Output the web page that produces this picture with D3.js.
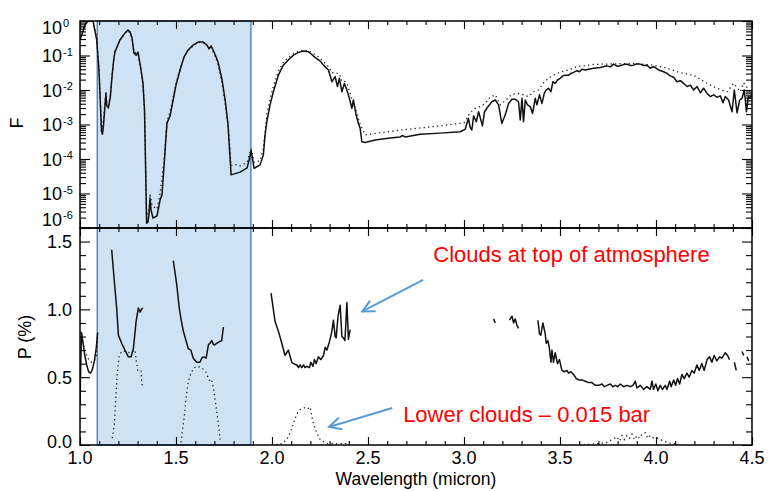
<!DOCTYPE html>
<html>
<head>
<meta charset="utf-8">
<script src="https://cdn.jsdelivr.net/npm/d3@7"></script>
<style>
  body { margin: 0; background: #fff; }
  svg text { font-family: "Liberation Sans", Arial, sans-serif; fill: #000; }
</style>
</head>
<body>
<svg id="chart" width="768" height="491"></svg>
<script>
// ---- data ----
// top panel: wavelength (micron) and log10(F), solid curve
const fWave = [
  1.000,1.026,1.042,1.068,1.087,1.099,1.106,1.112,1.117,1.122,
  1.135,1.139,1.148,1.158,1.167,1.175,1.182,1.208,1.234,1.250,
  1.261,1.271,1.281,1.292,1.302,1.318,1.328,1.336,1.341,1.347,
  1.354,1.360,1.365,1.370,1.380,1.401,1.417,1.427,1.438,1.453,
  1.469,1.485,1.500,1.521,1.542,1.563,1.589,1.615,1.641,1.662,
  1.672,1.683,1.698,1.719,1.740,1.756,1.771,1.787,1.834,1.870,
  1.881,1.891,1.907,1.938,1.955,1.964,1.973,1.990,2.007,2.033,
  2.059,2.085,2.112,2.138,2.164,2.190,2.207,2.225,2.251,2.268,
  2.294,2.312,2.329,2.341,2.351,2.364,2.377,2.390,2.403,2.416,
  2.424,2.438,2.450,2.459,2.468,2.485,2.537,2.615,2.668,2.678,
  2.694,2.772,2.876,2.980,3.006,3.023,3.032,3.041,3.050,3.064,
  3.076,3.084,3.096,3.107,3.119,3.133,3.145,3.163,3.180,3.197,
  3.215,3.232,3.250,3.267,3.284,3.293,3.302,3.310,3.319,3.331,
  3.345,3.357,3.371,3.380,3.393,3.406,3.418,3.428,3.440,3.453,
  3.463,3.475,3.487,3.501,3.515,3.527,3.545,3.557,3.571,3.588,
  3.602,3.614,3.632,3.649,3.675,3.710,3.745,3.762,3.779,3.797,
  3.814,3.831,3.849,3.866,3.883,3.901,3.918,3.935,3.953,3.970,
  3.988,4.014,4.040,4.057,4.074,4.092,4.109,4.127,4.144,4.162,
  4.179,4.196,4.214,4.231,4.248,4.266,4.283,4.300,4.318,4.335,
  4.349,4.361,4.378,4.396,4.408,4.422,4.436,4.448,4.460,4.471,
  4.481,4.491,4.500
];
const fSolid = [
  -0.55,-0.12,0,0,-0.55,-1.45,-2.40,-3.20,-3.28,-3.05,
  -2.10,-2.45,-2.52,-2.20,-1.60,-1.15,-0.90,-0.55,-0.35,-0.26,
  -0.32,-0.49,-0.93,-0.99,-0.90,-1.42,-1.80,-2.58,-4.03,-5.86,
  -5.83,-5.57,-5.13,-5.48,-5.71,-5.65,-5.19,-5.04,-4.17,-2.96,
  -2.75,-2.29,-1.86,-1.42,-1.04,-0.84,-0.70,-0.61,-0.61,-0.70,
  -0.81,-0.72,-0.90,-1.19,-1.71,-2.29,-3.01,-4.46,-4.38,-4.26,
  -4.03,-3.75,-4.27,-4.17,-3.88,-3.30,-2.92,-2.43,-2.05,-1.57,
  -1.28,-1.13,-0.99,-0.91,-0.87,-0.89,-0.97,-1.06,-1.16,-1.28,
  -1.42,-1.76,-1.61,-1.90,-1.66,-2.05,-1.81,-2.00,-2.24,-2.53,
  -2.29,-2.72,-2.97,-3.11,-3.50,-3.52,-3.45,-3.39,-3.36,-3.32,
  -3.36,-3.28,-3.25,-3.21,-3.14,-2.82,-3.08,-3.16,-2.75,-2.92,
  -2.63,-2.79,-3.04,-2.63,-2.53,-2.43,-2.34,-2.29,-2.43,-2.97,
  -2.72,-2.39,-2.27,-2.27,-2.34,-2.87,-2.24,-2.92,-2.29,-2.43,
  -2.48,-2.68,-2.24,-2.43,-2.14,-2.39,-2.10,-2.00,-1.95,-2.05,
  -1.76,-1.81,-1.71,-1.66,-1.59,-1.57,-1.57,-1.52,-1.49,-1.44,
  -1.47,-1.40,-1.42,-1.40,-1.37,-1.35,-1.30,-1.33,-1.25,-1.31,
  -1.30,-1.26,-1.25,-1.29,-1.28,-1.24,-1.25,-1.29,-1.28,-1.37,
  -1.32,-1.42,-1.47,-1.52,-1.59,-1.63,-1.76,-1.73,-1.81,-1.90,
  -1.86,-2.00,-1.90,-2.08,-1.95,-2.10,-2.19,-2.14,-2.21,-2.17,
  -2.37,-2.19,-2.29,-2.63,-2.00,-2.66,-2.29,-2.24,-2.00,-2.63,
  -2.19,-2.24,-2.10
];
// top panel, dotted curve (log10 F)
const fDotWave = [
  1.000,1.026,1.042,1.068,1.087,1.099,1.106,1.112,1.117,1.122,
  1.135,1.139,1.148,1.158,1.167,1.182,1.208,1.234,1.250,1.271,
  1.281,1.302,1.318,1.328,1.336,1.341,1.347,1.360,1.365,1.375,
  1.401,1.417,1.438,1.453,1.469,1.485,1.500,1.521,1.542,1.563,
  1.589,1.615,1.641,1.662,1.683,1.698,1.719,1.740,1.756,1.771,
  1.787,1.800,1.834,1.870,1.891,1.907,1.938,1.955,1.973,1.990,
  2.007,2.033,2.059,2.085,2.112,2.138,2.164,2.190,2.225,2.251,
  2.268,2.294,2.312,2.329,2.341,2.351,2.364,2.377,2.390,2.416,
  2.438,2.459,2.485,2.670,2.876,3.000,3.032,3.058,3.084,3.110,
  3.136,3.163,3.189,3.223,3.250,3.284,3.310,3.336,3.362,3.388,
  3.414,3.440,3.475,3.510,3.545,3.588,3.623,3.675,3.727,3.883,
  3.988,4.057,4.127,4.196,4.266,4.318,4.370,4.404,4.439,4.456,
  4.491,4.500
];
const fDotted = [
  -0.45,-0.08,0,0,-0.50,-1.40,-2.30,-3.10,-3.15,-2.85,
  -2.05,-2.35,-2.45,-2.15,-1.55,-0.88,-0.55,-0.36,-0.27,-0.48,
  -0.90,-0.95,-1.45,-1.85,-2.60,-4.00,-5.70,-5.45,-5.00,-5.35,
  -5.45,-5.00,-4.05,-2.90,-2.65,-2.20,-1.80,-1.40,-1.05,-0.86,
  -0.72,-0.62,-0.62,-0.72,-0.76,-0.95,-1.25,-1.80,-2.40,-3.00,
  -4.20,-4.15,-4.20,-4.10,-3.70,-4.10,-4.05,-3.70,-2.70,-2.25,
  -1.90,-1.45,-1.20,-1.05,-0.95,-0.88,-0.85,-0.86,-0.98,-1.08,
  -1.18,-1.32,-1.50,-1.50,-1.52,-1.52,-1.75,-1.75,-1.80,-2.25,
  -2.60,-3.00,-3.30,-3.16,-3.04,-2.95,-2.66,-2.53,-2.48,-2.39,
  -2.21,-2.14,-2.43,-2.27,-2.12,-2.10,-2.14,-2.19,-2.05,-2.00,
  -1.79,-1.66,-1.54,-1.47,-1.42,-1.32,-1.30,-1.26,-1.25,-1.23,
  -1.28,-1.37,-1.50,-1.57,-1.81,-1.95,-2.05,-1.81,-2.05,-1.79,
  -2.05,-2.00
];

// bottom panel: polarisation P (%), null = gap in the curve
const pWave = [
  1.000,1.004,1.008,1.015,1.025,1.035,1.045,1.055,1.065,1.075,1.085,1.092, null,
  1.165,1.178,1.191,1.200,1.217,1.234,1.252,1.266,1.278,1.292,1.304,1.313,1.320,1.327, null,
  1.486,1.504,1.517,1.526,1.538,1.552,1.564,1.577,1.590,1.608,1.625,1.634,1.643,1.657,
  1.669,1.677,1.686,1.695,1.703,1.712,1.724,1.738,1.747, null,
  1.995,2.016,2.033,2.051,2.068,2.085,2.103,2.112,2.129,2.138,2.146,2.155,2.164,2.172,
  2.181,2.195,2.202,2.213,2.221,2.230,2.242,2.254,2.268,2.277,2.286,2.299,2.312,2.320,
  2.329,2.334,2.344,2.355,2.364,2.372,2.380,2.390,2.398,2.407, null,
  3.154,3.163, null,
  3.237,3.250,3.258,3.267,3.276,3.284, null,
  3.385,3.393,3.400,3.411,3.423,3.428,3.437,3.444,3.453,3.458,3.466,3.475,3.487,3.497,
  3.510,3.522,3.536,3.544,3.557,3.571,3.585,3.597,3.614,3.632,3.649,3.666,3.684,3.701,
  3.719,3.731,3.745,3.762,3.776,3.788,3.800,3.814,3.831,3.849,3.866,3.880,3.892,3.901,
  3.918,3.935,3.953,3.970,3.979,3.987,3.999,4.010,4.022,4.034,4.048,4.057,4.071,4.079,
  4.092,4.102,4.112,4.123,4.135,4.147,4.161,4.173,4.187,4.199,4.213,4.225,4.239,4.251,
  4.266,4.279,4.291,4.303,4.317,4.331,4.343,4.361,4.373,4.383, null,
  4.408,4.418, null,
  4.448,4.457, null,
  4.474,4.483
];
const pSolid = [
  0.30,0.60,0.83,0.76,0.66,0.59,0.54,0.53,0.56,0.62,0.72,0.83, null,
  1.44,1.22,1.01,0.81,0.75,0.70,0.65,0.65,0.71,0.91,1.01,0.98,1.00,1.01, null,
  1.36,1.18,1.01,0.93,0.84,0.77,0.71,0.70,0.64,0.61,0.61,0.64,0.65,0.64,
  0.74,0.75,0.77,0.74,0.74,0.75,0.76,0.77,0.87, null,
  1.12,0.91,0.84,0.75,0.66,0.70,0.61,0.60,0.59,0.57,0.59,0.57,0.59,0.57,
  0.58,0.57,0.61,0.58,0.63,0.60,0.65,0.63,0.66,0.72,0.70,0.76,0.84,0.92,
  0.80,0.79,0.95,1.03,0.80,0.79,0.77,1.05,0.78,0.85, null,
  0.93,0.90, null,
  0.92,0.95,0.90,0.93,0.88,0.86, null,
  0.92,0.82,0.81,0.90,0.82,0.75,0.77,0.72,0.61,0.70,0.61,0.68,0.60,0.63,
  0.55,0.54,0.55,0.53,0.54,0.52,0.49,0.48,0.48,0.47,0.46,0.46,0.44,0.44,
  0.45,0.43,0.44,0.45,0.43,0.44,0.43,0.45,0.43,0.44,0.43,0.44,0.47,0.42,
  0.44,0.41,0.43,0.41,0.47,0.41,0.45,0.40,0.44,0.41,0.44,0.41,0.47,0.43,
  0.48,0.44,0.49,0.45,0.52,0.49,0.53,0.50,0.55,0.53,0.59,0.55,0.60,0.55,
  0.63,0.65,0.61,0.66,0.62,0.65,0.64,0.68,0.66,0.63, null,
  0.61,0.55, null,
  0.69,0.66, null,
  0.65,0.62
];
// bottom panel, dotted curve
const pDotWave = [
  1.004,1.015,1.030,1.045,1.060,1.075,1.085,1.092, null,
  1.168,1.179,1.186,1.194,1.203,1.217,1.234,1.261,1.287,1.292,1.301,1.318,1.321,1.325, null,
  1.526,1.533,1.544,1.552,1.561,1.570,1.582,1.594,1.611,1.634,1.655,1.669,1.677,1.686,
  1.695,1.703,1.712,1.721,1.730, null,
  1.999,2.040,2.077,2.094,2.112,2.129,2.146,2.162,2.178,2.190,2.199,2.207,2.216,2.225,
  2.233,2.251,2.286,2.397, null,
  3.600,3.700,3.745,3.771,3.797,3.810,3.823,3.836,3.849,3.862,3.875,3.888,3.901,3.914,
  3.927,3.944,3.957,3.970,3.988,4.005,4.022,4.040,4.057,4.080,4.109
];
const pDotted = [
  0.83,0.76,0.68,0.63,0.61,0.62,0.66,0.80, null,
  0.05,0.15,0.34,0.52,0.65,0.69,0.69,0.68,0.70,0.63,0.55,0.55,0.48,0.43, null,
  0.02,0.10,0.22,0.34,0.44,0.50,0.54,0.57,0.58,0.57,0.54,0.49,0.47,0.48,
  0.42,0.34,0.25,0.15,0.04, null,
  0.01,0.00,0.04,0.09,0.16,0.23,0.26,0.27,0.28,0.27,0.28,0.21,0.16,0.12,
  0.09,0.04,0.01,0.01, null,
  0.00,0.01,0.02,0.04,0.06,0.03,0.07,0.04,0.07,0.05,0.08,0.04,0.07,0.05,
  0.08,0.09,0.05,0.07,0.05,0.05,0.04,0.03,0.02,0.01,0.01
];

const xTicks = [1.0, 1.5, 2.0, 2.5, 3.0, 3.5, 4.0, 4.5];
const fTickExp = [0, -1, -2, -3, -4, -5, -6];
const pTicks = [0.0, 0.5, 1.0, 1.5];
const band = [1.09, 1.89];
// annotation: text anchor point and arrow (tail -> head), in data units of the P panel
const noteText = ['Clouds at top of atmosphere', 'Lower clouds \u2013 0.015 bar'];
const noteAt = [[2.84, 1.35], [2.683, 0.172]];
const arrowFrom = [[2.787, 1.217], [2.626, 0.273]];
const arrowTo = [[2.47, 0.985], [2.297, 0.133]];

// ---- layout ----
const L = 80, R = 752, T = 21, M = 228, B = 445;
const svg = d3.select('#chart');

const x = d3.scaleLinear().domain([1, 4.5]).range([L, R]);
const yF = d3.scaleLog().domain([1e-6, 1]).range([M, T]);
const yP = d3.scaleLinear().domain([0, 1.6]).range([B, M]);

const defs = svg.append('defs');
defs.append('clipPath').attr('id', 'clipTop')
  .append('rect').attr('x', L).attr('y', T).attr('width', R - L).attr('height', M - T);
defs.append('clipPath').attr('id', 'clipBot')
  .append('rect').attr('x', L).attr('y', M).attr('width', R - L).attr('height', B - M);
defs.append('marker')
  .attr('id', 'arrow')
  .attr('viewBox', '-14 -8 16 16')
  .attr('refX', 0).attr('refY', 0)
  .attr('markerWidth', 16).attr('markerHeight', 16)
  .attr('markerUnits', 'userSpaceOnUse')
  .attr('orient', 'auto')
  .append('path')
  .attr('d', 'M-12,-6L0,0L-12,6')
  .attr('fill', 'none')
  .attr('stroke', '#5b9bd5')
  .attr('stroke-width', 2);

// shaded band
svg.append('rect')
  .attr('x', x(band[0])).attr('y', T)
  .attr('width', x(band[1]) - x(band[0])).attr('height', B - T)
  .attr('fill', '#cfe2f3')
  .attr('stroke', '#4f81bd')
  .attr('stroke-width', 1.4);

// ---- curves ----
const topSolid = fWave.map((w, i) => ({ w, v: Math.pow(10, fSolid[i]) }));
const topDot = fDotWave.map((w, i) => ({ w, v: Math.pow(10, fDotted[i]) }));
const botSolid = pWave.map((w, i) => ({ w, v: pSolid[i] }));
const botDot = pDotWave.map((w, i) => ({ w, v: pDotted[i] }));

const lineF = d3.line().x(d => x(d.w)).y(d => yF(d.v));
const lineP = d3.line().defined(d => d.v != null).x(d => x(d.w)).y(d => yP(d.v));

const gTop = svg.append('g').attr('clip-path', 'url(#clipTop)');
gTop.append('path').datum(topDot).attr('d', lineF)
  .attr('fill', 'none').attr('stroke', '#222').attr('stroke-width', 1.3)
  .attr('stroke-dasharray', '1.3,3.2');
gTop.append('path').datum(topSolid).attr('d', lineF)
  .attr('fill', 'none').attr('stroke', '#111').attr('stroke-width', 1.5)
  .attr('stroke-linejoin', 'round');

const gBot = svg.append('g').attr('clip-path', 'url(#clipBot)');
gBot.append('path').datum(botDot).attr('d', lineP)
  .attr('fill', 'none').attr('stroke', '#222').attr('stroke-width', 1.3)
  .attr('stroke-dasharray', '1.3,3.2');
gBot.append('path').datum(botSolid).attr('d', lineP)
  .attr('fill', 'none').attr('stroke', '#111').attr('stroke-width', 1.5)
  .attr('stroke-linejoin', 'round');

// ---- axes (ticks only, pointing inward) ----
const xMinor = x.ticks(35).filter(v => !xTicks.some(t => Math.abs(t - v) < 1e-9));
const fMajor = fTickExp.map(e => Math.pow(10, e));
const fMinor = yF.ticks().filter(v => !fMajor.some(t => Math.abs(t - v) / t < 1e-6));
const pMinor = yP.ticks(16).filter(v => !pTicks.some(t => Math.abs(t - v) < 1e-9));

function strip(g) {
  g.select('.domain').remove();
  g.selectAll('line').attr('stroke', '#000').attr('stroke-width', 1.1);
}

function xAxisAt(y, dir) {
  svg.append('g').attr('transform', `translate(0,${y})`)
    .call(d3.axisBottom(x).tickValues(xTicks).tickSize(8 * dir).tickFormat(''))
    .call(strip);
  svg.append('g').attr('transform', `translate(0,${y})`)
    .call(d3.axisBottom(x).tickValues(xMinor).tickSize(4 * dir).tickFormat(''))
    .call(strip);
}
xAxisAt(T, 1);
xAxisAt(M, -1);
xAxisAt(M, 1);
xAxisAt(B, -1);

function yAxis(scale, major, minor) {
  [[L, d3.axisLeft], [R, d3.axisRight]].forEach(([pos, ax]) => {
    svg.append('g').attr('transform', `translate(${pos},0)`)
      .call(ax(scale).tickValues(major).tickSize(-10).tickFormat(''))
      .call(strip);
    svg.append('g').attr('transform', `translate(${pos},0)`)
      .call(ax(scale).tickValues(minor).tickSize(-6).tickFormat(''))
      .call(strip);
  });
}
yAxis(yF, fMajor, fMinor);
yAxis(yP, pTicks, pMinor);

// frames
[[T, M], [M, B]].forEach(([a, b]) => {
  svg.append('rect').attr('x', L).attr('y', a).attr('width', R - L).attr('height', b - a)
    .attr('fill', 'none').attr('stroke', '#000').attr('stroke-width', 1.5);
});

// ---- tick labels ----
svg.append('g').selectAll('text').data(xTicks).join('text')
  .attr('x', d => x(d)).attr('y', B + 19)
  .attr('text-anchor', 'middle').attr('font-size', 18)
  .text(d => d.toFixed(1));

const fLab = svg.append('g').selectAll('g').data(fTickExp).join('g')
  .attr('transform', d => {
    let shift = d === 0 ? 6 : d === -6 ? -9 : 0;
    return `translate(0,${yF(Math.pow(10, d)) + shift})`;
  });
fLab.append('text').attr('x', 62).attr('y', 6.5)
  .attr('text-anchor', 'end').attr('font-size', 18).text('10');
fLab.append('text').attr('x', 63).attr('y', 0)
  .attr('font-size', 11).text(d => d === 0 ? '0' : '-' + Math.abs(d));

svg.append('g').selectAll('text').data(pTicks).join('text')
  .attr('x', 72).attr('y', d => yP(d) + 6.5 - (d === 0 ? 4 : 0))
  .attr('text-anchor', 'end').attr('font-size', 18)
  .text(d => d.toFixed(1));

// axis titles
svg.append('text').attr('x', (L + R) / 2).attr('y', 485)
  .attr('text-anchor', 'middle').attr('font-size', 17.5)
  .text('Wavelength (micron)');
svg.append('text').attr('transform', 'translate(23,123) rotate(-90)')
  .attr('text-anchor', 'middle').attr('font-size', 18).text('F');
svg.append('text').attr('transform', 'translate(31,337) rotate(-90)')
  .attr('text-anchor', 'middle').attr('font-size', 18).text('P (%)');

// ---- annotations ----
svg.append('g').selectAll('line').data(arrowFrom).join('line')
  .attr('x1', d => x(d[0])).attr('y1', d => yP(d[1]))
  .attr('x2', (d, i) => x(arrowTo[i][0])).attr('y2', (d, i) => yP(arrowTo[i][1]))
  .attr('stroke', '#5b9bd5').attr('stroke-width', 2)
  .attr('marker-end', 'url(#arrow)');

svg.append('g').selectAll('text').data(noteText).join('text')
  .attr('x', (d, i) => x(noteAt[i][0])).attr('y', (d, i) => yP(noteAt[i][1]))
  .attr('font-size', 22)
  .style('fill', '#ff0000')
  .text(d => d);
</script>
</body>
</html>
